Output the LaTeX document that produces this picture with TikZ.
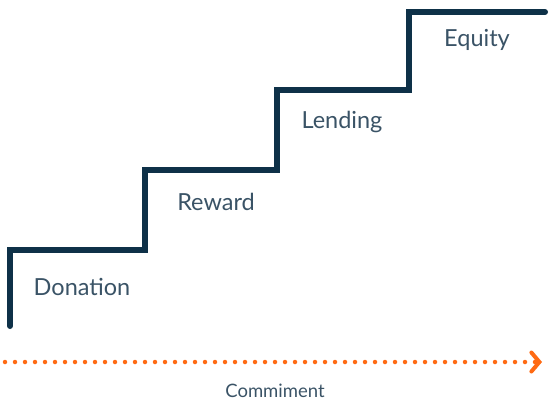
\documentclass[tikz,border=0pt]{standalone}
\usepackage{fontspec}
\setmainfont{Lato}
\usetikzlibrary{arrows.meta}
\definecolor{stairblue}{HTML}{0E3148}
\definecolor{labelgrey}{HTML}{3A5366}
\definecolor{commitorange}{HTML}{FF6A13}
\tikzset{
  stair/.style={line width=6pt, stairblue, line cap=round, line join=miter},
  level/.style={text=labelgrey, font=\fontsize{23.5}{28}\selectfont, inner sep=0pt},
  commit/.style={line width=4.5pt, commitorange, line cap=round, dash pattern=on 0pt off 10pt,
    -{Straight Barb[length=8pt, width=19pt, line width=4pt, line cap=round]}}
}
\begin{document}
\begin{tikzpicture}[x=1pt, y=-1pt]
\useasboundingbox (0,0) rectangle (556,416);
%\draw[help lines, step=50] (0,0) grid (556,416);
\draw[stair] (10,326) -- (10,250) -- (145,250) -- (145,170) -- (277,170) -- (277,90)
  -- (409,90) -- (409,12) -- (545,12);
\node[level] (donation) at (82,287) {Donation};
\node[level] (reward) at (216,202) {Reward};
\node[level] (lending) at (342,122) {Lending};
\node[level] (equity) at (477,40) {Equity};
\coordinate (start) at (5,362);
\coordinate (end) at (542,362);
\draw[commit] (start) -- (end);
\node[text=labelgrey, font=\fontsize{18.5}{22}\selectfont] (axis) at (275,391) {Commiment};
\end{tikzpicture}
\end{document}
